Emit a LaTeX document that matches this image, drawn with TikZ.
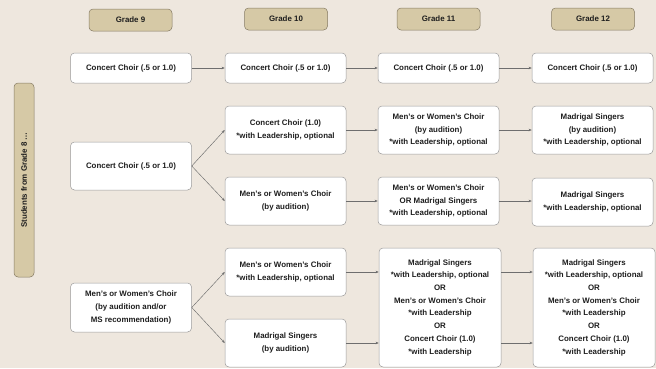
\documentclass[tikz,border=0pt]{standalone}
\usepackage{fontspec}
\setmainfont{Liberation Sans}
\usetikzlibrary{arrows.meta}
\definecolor{pagebg}{HTML}{EEE7DE}
\definecolor{tan}{HTML}{D6C9A6}
\definecolor{tanedge}{HTML}{857A62}
\definecolor{boxedge}{HTML}{9A9A9A}
\definecolor{ink}{HTML}{1E1E1E}
\definecolor{wire}{HTML}{6E6E6E}
\tikzset{
  txt/.style={font=\fontsize{7.9}{12.7}\selectfont\bfseries, text=ink, align=center, inner sep=0pt},
  gradebox/.style={txt, draw=tanedge, fill=tan, rounded corners=4pt, line width=0.5pt, minimum width=83pt, minimum height=22pt},
  choirbox/.style={txt, draw=boxedge, fill=white, rounded corners=4pt, line width=0.5pt, minimum width=121pt},
  sidebar/.style={txt, draw=tanedge, fill=tan, rounded corners=4pt, line width=0.5pt, minimum width=20pt, minimum height=194pt},
  link/.style={draw=wire, line width=0.45pt, -{Stealth[length=3.2pt,width=2.6pt]}}
}
\begin{document}
\begin{tikzpicture}[x=1pt,y=-1pt]
  \fill[pagebg] (0,0) rectangle (656,368);
  \useasboundingbox (0,0) rectangle (656,368);

  % grade headers
  \node[gradebox] (g9)  at (130.5,20) {Grade 9};
  \node[gradebox] (g10) at (286,19) {Grade 10};
  \node[gradebox] (g11) at (438.5,19) {Grade 11};
  \node[gradebox] (g12) at (593,19) {Grade 12};

  % side label
  \node[sidebar] (side) at (24,180) {};
  \node[txt, rotate=90] (sidetxt) at (side.center) {Students from Grade 8 \dots};

  % first track: concert choir all the way
  \node[choirbox, minimum height=30pt] (a9)  at (131,68)   {Concert Choir (.5 or 1.0)};
  \node[choirbox, minimum height=30pt] (a10) at (285.5,68) {Concert Choir (.5 or 1.0)};
  \node[choirbox, minimum height=30pt] (a11) at (438.5,68) {Concert Choir (.5 or 1.0)};
  \node[choirbox, minimum height=30pt] (a12) at (592.5,68) {Concert Choir (.5 or 1.0)};

  % second track
  \node[choirbox, minimum height=48pt] (b9)  at (131,166)   {Concert Choir (.5 or 1.0)};
  \node[choirbox, minimum height=48pt] (b10u) at (285.5,130) {Concert Choir (1.0)\\*with Leadership, optional};
  \node[choirbox, minimum height=48pt] (b10l) at (285.5,201) {Men's or Women's Choir\\(by audition)};
  \node[choirbox, minimum height=48pt] (b11u) at (438.5,130) {Men's or Women's Choir\\(by audition)\\*with Leadership, optional};
  \node[choirbox, minimum height=48pt] (b11l) at (438.5,201) {Men's or Women's Choir\\OR Madrigal Singers\\*with Leadership, optional};
  \node[choirbox, minimum height=48pt] (b12u) at (592.5,130) {Madrigal Singers\\(by audition)\\*with Leadership, optional};
  \node[choirbox, minimum height=48pt] (b12l) at (592.5,202) {Madrigal Singers\\*with Leadership, optional};

  % third track
  \node[choirbox, minimum height=49pt] (c9)  at (131,307.5) {Men's or Women's Choir\\(by audition and/or\\MS recommendation)};
  \node[choirbox, minimum height=48pt] (c10u) at (285.5,272) {Men's or Women's Choir\\*with Leadership, optional};
  \node[choirbox, minimum height=48pt] (c10l) at (285.5,343) {Madrigal Singers\\(by audition)};
  \node[choirbox, minimum width=122pt, minimum height=119pt] (c11) at (440,307.5)
    {Madrigal Singers\\*with Leadership, optional\\OR\\Men's or Women's Choir\\*with Leadership\\OR\\Concert Choir (1.0)\\*with Leadership};
  \node[choirbox, minimum width=122pt, minimum height=119pt] (c12) at (594,307.5)
    {Madrigal Singers\\*with Leadership, optional\\OR\\Men's or Women's Choir\\*with Leadership\\OR\\Concert Choir (1.0)\\*with Leadership};

  % connectors
  \draw[link] (a9) -- (a10);
  \draw[link] (a10) -- (a11);
  \draw[link] (a11) -- (a12);

  \draw[link] (b9.east) -- (b10u.west);
  \draw[link] (b9.east) -- (b10l.west);
  \draw[link] (b10u) -- (b11u);
  \draw[link] (b10l) -- (b11l);
  \draw[link] (b11u) -- (b12u);
  \draw[link] (b11l.east) -- (b12l.west |- b11l.east);

  \draw[link] (c9.east) -- (c10u.west);
  \draw[link] (c9.east) -- (c10l.west);
  \draw[link] (c10u.east) -- (c11.west |- c10u.east);
  \draw[link] (c10l.east) -- (c11.west |- c10l.east);
  \draw[link] (c11.east |- c10u.east) -- (c12.west |- c10u.east);
  \draw[link] (c11.east |- c10l.east) -- (c12.west |- c10l.east);
\end{tikzpicture}
\end{document}
